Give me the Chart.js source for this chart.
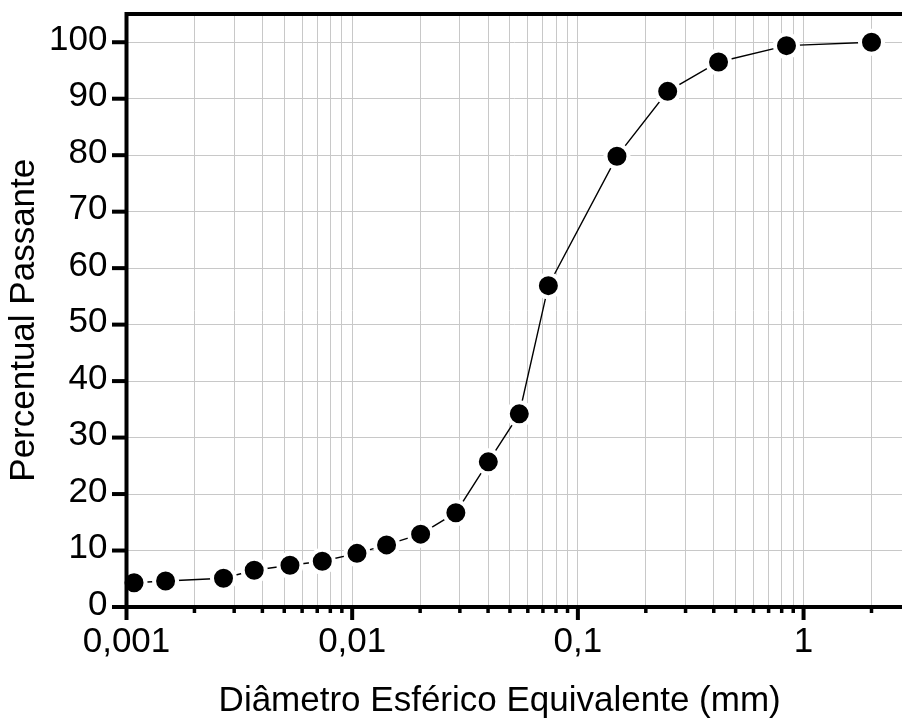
<!DOCTYPE html>
<html>
<head>
<meta charset="utf-8">
<script src="https://cdn.jsdelivr.net/npm/chart.js@4.4.1/dist/chart.umd.min.js"></script>
<style>
  html, body { margin: 0; padding: 0; background: #fff; overflow: hidden; }
  #wrap { width: 902px; height: 720px; position: relative; }
  #chart { display: block; }
</style>
</head>
<body>
<div id="wrap"><canvas id="chart"></canvas></div>
<script>
// grain size curve: diameter (mm) vs percent passing
const diameters = [0.00108, 0.00149, 0.00269, 0.00368, 0.0053, 0.00737, 0.0105, 0.0142, 0.0201,
                   0.0288, 0.0401, 0.055, 0.074, 0.149, 0.25, 0.42, 0.84, 2.0];
const passing   = [4.3, 4.6, 5.1, 6.5, 7.4, 8.1, 9.5, 11.0, 12.9,
                   16.7, 25.7, 34.2, 56.9, 79.8, 91.3, 96.5, 99.4, 100];

const xTickLabels = { "0.001": "0,001", "0.01": "0,01", "0.1": "0,1", "1": "1" };
const xRange = [0.001, 2.73];
const yRange = [0, 105];
const yStep = 5;
const yLabelStep = 10;

const FONT = "'Liberation Sans', Arial, sans-serif";
const FONT_SIZE = 35;
const GRID = "#c8c8c8";
const NBSP = "\u00a0";

function isDecade(v){
  const l = Math.log10(v);
  return Math.abs(l - Math.round(l)) < 1e-6;
}
function isWholeSignificand(v){
  const s = v / Math.pow(10, Math.floor(Math.log10(v) + 1e-9));
  return Math.abs(s - Math.round(s)) < 1e-6;
}
function decadeLabel(v){
  for (const k in xTickLabels) {
    if (Math.abs(Math.log10(v) - Math.log10(+k)) < 1e-6) return xTickLabels[k];
  }
  return "";
}
function noEdgePadding(scale){
  scale.paddingLeft = 0;
  scale.paddingRight = 0;
  scale.paddingTop = 0;
  scale.paddingBottom = 0;
}

// thick frame and outward tick marks, placed from the chart's own scales
const axisFrame = {
  id: "axisFrame",
  afterDraw(chart){
    const { ctx, chartArea: a, scales: { x, y } } = chart;
    ctx.save();
    ctx.strokeStyle = "#000";
    ctx.lineCap = "butt";

    y.ticks.forEach(t => {
      const py = y.getPixelForValue(t.value);
      const major = t.value % yLabelStep === 0;
      ctx.lineWidth = major ? 4 : 3.5;
      ctx.beginPath();
      ctx.moveTo(a.left, py);
      ctx.lineTo(a.left - (major ? 14.5 : 8.5), py);
      ctx.stroke();
    });

    x.ticks.forEach(t => {
      if (!isWholeSignificand(t.value)) return;
      const px = x.getPixelForValue(t.value);
      const major = isDecade(t.value);
      ctx.lineWidth = major ? 4 : 3.5;
      ctx.beginPath();
      ctx.moveTo(px, a.bottom);
      ctx.lineTo(px, a.bottom + (major ? 13 : 6));
      ctx.stroke();
    });

    ctx.lineWidth = 4;
    ctx.beginPath();
    ctx.moveTo(a.left, a.top);
    ctx.lineTo(a.right, a.top);
    ctx.moveTo(a.left, a.top - 2);
    ctx.lineTo(a.left, a.bottom + 2);
    ctx.moveTo(a.left - 2, a.bottom);
    ctx.lineTo(a.right, a.bottom);
    ctx.stroke();
    ctx.restore();
  }
};

new Chart(document.getElementById("chart"), {
  type: "line",
  data: {
    datasets: [{
      data: diameters.map((d, i) => ({ x: d, y: passing[i] })),
      borderColor: "#000",
      borderWidth: 1.4,
      tension: 0,
      pointRadius: 11.5,
      pointHoverRadius: 11.5,
      pointBackgroundColor: "#000",
      pointBorderColor: "#fff",
      pointBorderWidth: 4,
      clip: false
    }]
  },
  options: {
    responsive: true,
    maintainAspectRatio: false,
    animation: false,
    events: [],
    layout: { autoPadding: false, padding: { left: 0, right: 0, top: 14, bottom: 0 } },
    plugins: { legend: { display: false }, tooltip: { enabled: false } },
    scales: {
      x: {
        type: "logarithmic",
        min: xRange[0],
        max: xRange[1],
        afterFit(scale){ scale.height = 113; noEdgePadding(scale); },
        border: { display: false },
        grid: {
          drawTicks: false,
          lineWidth: 1,
          color: ctx => (ctx.tick && isWholeSignificand(ctx.tick.value)) ? GRID : "rgba(0,0,0,0)"
        },
        ticks: {
          autoSkip: false,
          maxRotation: 0,
          padding: 14,
          color: "#000",
          font: { family: FONT, size: FONT_SIZE },
          callback: v => decadeLabel(v)
        },
        title: {
          display: true,
          // trailing spaces nudge the centred title left, like the original
          text: "Diâmetro Esférico Equivalente (mm)" + NBSP.repeat(3),
          color: "#000",
          font: { family: FONT, size: FONT_SIZE, lineHeight: 1 },
          padding: { top: 0, bottom: 1 }
        }
      },
      y: {
        min: yRange[0],
        max: yRange[1],
        afterFit(scale){ scale.width = 126.5; noEdgePadding(scale); },
        border: { display: false },
        grid: { drawTicks: false, color: GRID, lineWidth: 1 },
        ticks: {
          stepSize: yStep,
          padding: 19,
          labelOffset: -2,
          color: "#000",
          font: { family: FONT, size: FONT_SIZE },
          callback: v => (v % yLabelStep === 0 ? String(v) : "")
        },
        title: {
          display: true,
          text: "Percentual Passante" + NBSP.repeat(2),
          color: "#000",
          font: { family: FONT, size: FONT_SIZE, lineHeight: 1 },
          padding: { top: 7, bottom: 0 }
        }
      }
    }
  },
  plugins: [axisFrame]
});
</script>
</body>
</html>
